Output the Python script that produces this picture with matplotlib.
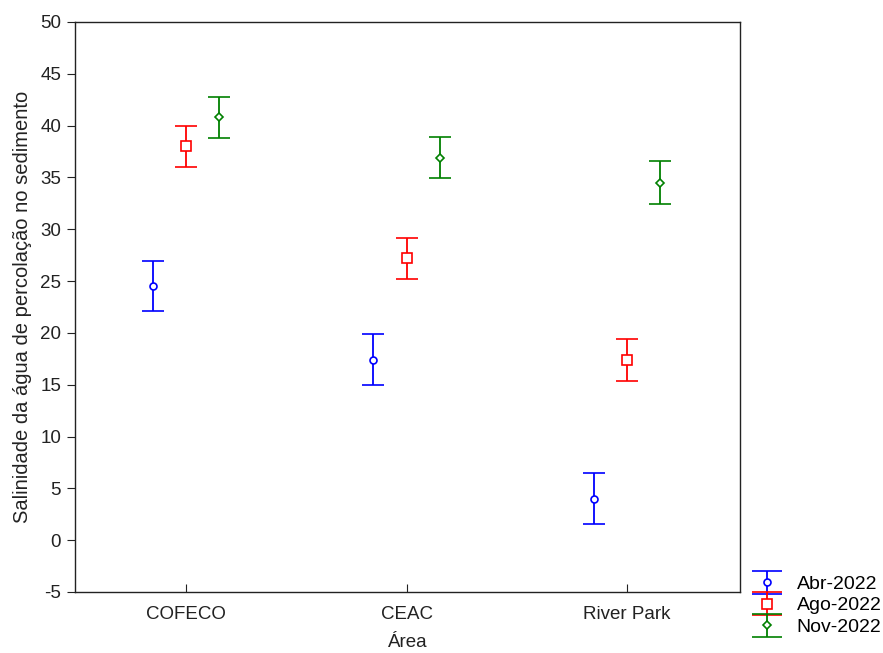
import numpy as np
import matplotlib
matplotlib.use("Agg")
import matplotlib.pyplot as plt
from matplotlib.legend_handler import HandlerErrorbar

plt.rcParams['font.family'] = ['Liberation Sans', 'DejaVu Sans']
plt.rcParams['axes.unicode_minus'] = False

areas = ["COFECO", "CEAC", "River Park"]
periods = ["Abr-2022", "Ago-2022", "Nov-2022"]

# mean salinity and half-width of the error bars, per area
abr_mean = [24.5, 17.4, 4.0]
abr_err = [2.4, 2.45, 2.45]
ago_mean = [38.0, 27.2, 17.4]
ago_err = [2.0, 2.0, 2.0]
nov_mean = [40.8, 36.9, 34.5]
nov_err = [2.0, 2.0, 2.05]

means = [abr_mean, ago_mean, nov_mean]
errs = [abr_err, ago_err, nov_err]
colors = ["#0000ff", "#ff0000", "#008000"]
markers = ["o", "s", "D"]
msizes = [5, 7, 4.5]
offsets = [-0.15, 0.0, 0.15]
fs = 13.5

fig = plt.figure(figsize=(8.83, 6.53), dpi=100)
ax = fig.add_axes([75 / 883, 1 - 592 / 653, 665 / 883, 570 / 653])

x = np.arange(1, len(areas) + 1)
handles = []
for m, e, c, mk, ms, off, lab in zip(means, errs, colors, markers, msizes, offsets, periods):
    style = dict(fmt=mk, color=c, ecolor=c, mfc="white", mec=c, ms=ms, mew=1.2,
                 elinewidth=1.3, capthick=1.3)
    ax.errorbar(x + off, m, yerr=e, capsize=8, **style)
    # wider caps for the legend key
    h = ax.errorbar([np.nan], [np.nan], yerr=[1], capsize=11, label=lab, **style)
    handles.append(h)

ax.set_xlim(0.497, 3.512)
ax.set_ylim(-5, 50)
ax.set_yticks(np.arange(-5, 51, 5))
ax.set_xticks(x)
ax.set_xticklabels(areas)
ax.tick_params(axis="y", direction="out", length=6, labelsize=fs, colors="#222222", pad=4)
ax.tick_params(axis="x", direction="in", length=6, labelsize=fs, colors="#222222", pad=10)
for s in ax.spines.values():
    s.set_color("#222222")
    s.set_linewidth(1.0)

ax.set_xlabel("Área", fontsize=fs, color="#222222", labelpad=8)
ax.set_ylabel("Salinidade da água de percolação no sedimento", fontsize=14.5, color="#222222",
              labelpad=6)

fig.legend(handles=handles, labels=periods, loc="lower left",
           bbox_to_anchor=(752 / 883, 17 / 653), frameon=False, fontsize=14,
           handlelength=1.55, handletextpad=0.75, labelspacing=0.2,
           borderpad=0, borderaxespad=0,
           handler_map={type(handles[0]): HandlerErrorbar(yerr_size=0.6)})

fig.savefig("out.png", dpi=100)
